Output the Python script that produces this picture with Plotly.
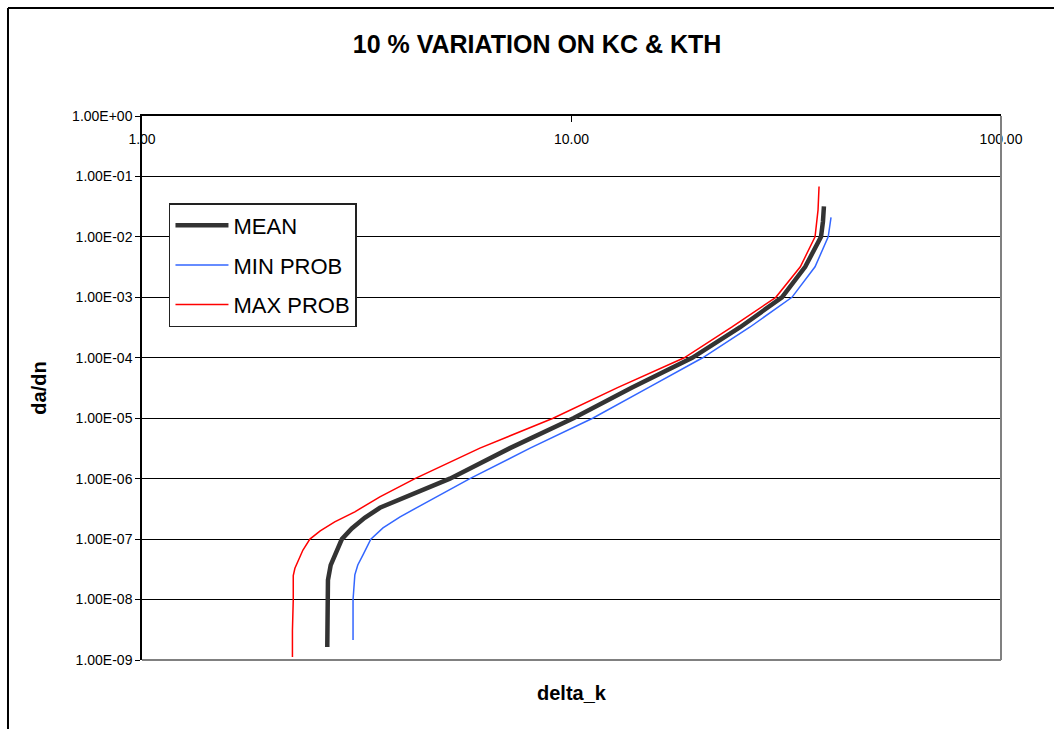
import plotly.graph_objects as go

# ---- data ----
mean_dk = [2.70, 2.70, 2.71, 2.75, 2.83, 2.92, 3.08, 3.30, 3.58, 3.99, 4.56, 5.21,
           7.19, 10.1, 13.8, 19.1, 24.7, 30.9, 35.0, 38.1, 38.5, 38.7]
mean_dadn = [1.64e-9, 9.9e-9, 2.1e-8, 3.7e-8, 5.9e-8, 1.0e-7, 1.5e-7, 2.25e-7, 3.3e-7,
             4.5e-7, 6.8e-7, 1.0e-6, 3.2e-6, 1.0e-5, 3.2e-5, 1.0e-4, 3.2e-4, 1.0e-3,
             3.2e-3, 1.0e-2, 1.8e-2, 3.2e-2]

min_dk = [3.10, 3.10, 3.13, 3.18, 3.27, 3.41, 3.64, 3.99, 4.44, 5.08, 5.80, 8.01,
          11.2, 15.1, 20.2, 26.0, 32.6, 36.9, 39.6, 40.2]
min_dadn = [2.14e-9, 9.9e-9, 2.56e-8, 3.74e-8, 5.48e-8, 1.0e-7, 1.53e-7, 2.34e-7,
            3.55e-7, 6.05e-7, 1.0e-6, 3.2e-6, 1.0e-5, 3.2e-5, 1.0e-4, 3.2e-4, 1.0e-3,
            3.2e-3, 1.0e-2, 2.1e-2]

max_dk = [2.24, 2.24, 2.25, 2.25, 2.27, 2.31, 2.37, 2.46, 2.60, 2.81, 3.13, 3.58,
          4.32, 6.12, 9.06, 12.8, 18.3, 23.6, 29.9, 34.1, 36.9, 37.5, 37.7]
max_dadn = [1.12e-9, 3.1e-9, 9.9e-9, 2.5e-8, 3.3e-8, 4.5e-8, 6.6e-8, 1.0e-7, 1.37e-7,
            1.93e-7, 2.83e-7, 5.0e-7, 1.0e-6, 3.2e-6, 1.0e-5, 3.2e-5, 1.0e-4, 3.2e-4,
            1.0e-3, 3.2e-3, 1.0e-2, 2.8e-2, 6.8e-2]

x_tickvals = [1, 10, 100]
x_ticktext = ["1.00", "10.00", "100.00"]
y_tickvals = [1e0, 1e-1, 1e-2, 1e-3, 1e-4, 1e-5, 1e-6, 1e-7, 1e-8, 1e-9]
y_ticktext = ["1.00E+00", "1.00E-01", "1.00E-02", "1.00E-03", "1.00E-04",
              "1.00E-05", "1.00E-06", "1.00E-07", "1.00E-08", "1.00E-09"]

FONT = "Liberation Sans, Arial, sans-serif"

fig = go.Figure()
fig.add_trace(go.Scatter(x=mean_dk, y=mean_dadn, mode="lines", name="MEAN",
                         line=dict(color="#333333", width=4.5), legendgroup="a"))
fig.add_trace(go.Scatter(x=min_dk, y=min_dadn, mode="lines", name="MIN PROB",
                         line=dict(color="#3366FF", width=1.5), legendgroup="b"))
fig.add_trace(go.Scatter(x=max_dk, y=max_dadn, mode="lines", name="MAX PROB",
                         line=dict(color="#FF0000", width=1.5), legendgroup="c"))

fig.update_layout(
    width=1054, height=729,
    margin=dict(l=142, r=53, t=116, b=69),
    paper_bgcolor="white", plot_bgcolor="white",
    font=dict(family=FONT, color="black"),
    title=dict(text="<b>10 % VARIATION ON KC & KTH</b>", x=0.5095, xref="container",
               xanchor="center", y=1 - 44 / 729, yref="container", yanchor="middle",
               font=dict(size=25, family=FONT, color="black")),
    showlegend=True,
    legend=dict(x=0.0314, y=0.840, xanchor="left", yanchor="top",
                bgcolor="white", bordercolor="#222222", borderwidth=1.5,
                font=dict(size=22, family=FONT, color="black"),
                itemwidth=53, tracegroupgap=8),
    xaxis=dict(type="log", range=[0, 2], side="top", showgrid=False,
               tickvals=x_tickvals, ticktext=x_ticktext,
               ticks="inside", ticklen=6, tickcolor="black",
               ticklabelposition="inside", ticklabeloverflow="allow",
               ticklabelstandoff=12,
               tickfont=dict(size=14, family=FONT, color="black"),
               showline=True, linecolor="black", linewidth=1.5, zeroline=False),
    yaxis=dict(type="log", range=[-9, 0],
               tickvals=y_tickvals, ticktext=y_ticktext,
               ticks="outside", ticklen=5, tickcolor="black",
               tickfont=dict(size=14, family=FONT, color="black"),
               showgrid=True, gridcolor="black", gridwidth=1,
               showline=True, linecolor="black", linewidth=1.5, zeroline=False,
               title=dict(text="<b>da/dn</b>", standoff=20,
                          font=dict(size=20, family=FONT, color="black"))),
)

# gray right and bottom plot-area borders
fig.add_shape(type="line", xref="paper", yref="paper", x0=1, x1=1, y0=0, y1=1,
              line=dict(color="#808080", width=2))
fig.add_shape(type="line", xref="paper", yref="paper", x0=0, x1=1, y0=0, y1=0,
              line=dict(color="#808080", width=2))
# outer chart-area frame (top and left edges visible)
fig.add_shape(type="line", xref="paper", yref="paper", x0=-0.156, x1=1.1,
              y0=1.1985, y1=1.1985, line=dict(color="black", width=2))
fig.add_shape(type="line", xref="paper", yref="paper", x0=-0.156, x1=-0.156,
              y0=-0.2, y1=1.1985, line=dict(color="black", width=2))

# x-axis title at the bottom (axis itself is drawn at the top)
fig.add_annotation(text="<b>delta_k</b>", xref="paper", yref="paper", x=0.5,
                   y=(660 - 693) / 544, xanchor="center", yanchor="middle",
                   showarrow=False, font=dict(size=20, family=FONT, color="black"))

fig.write_html("out.html")
